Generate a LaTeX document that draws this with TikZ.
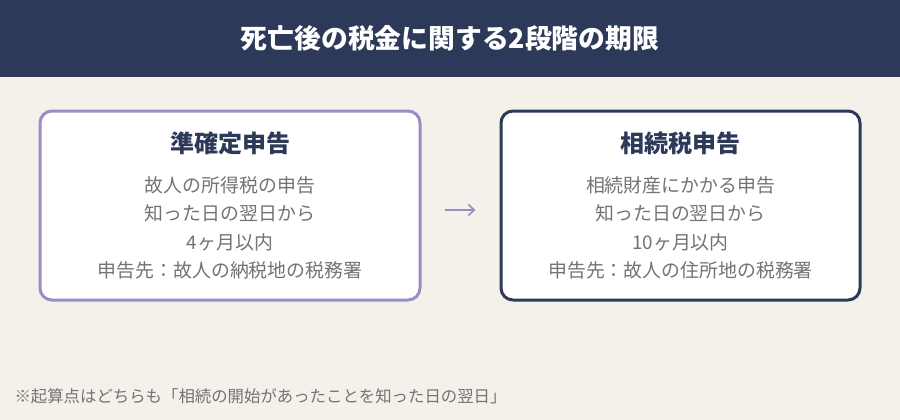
\documentclass[tikz,border=0pt]{standalone}
\usepackage{fontspec}
\setmainfont{Noto Sans CJK JP}
\usetikzlibrary{arrows.meta}
\definecolor{navy}{HTML}{2D3958}
\definecolor{bg}{HTML}{F4F1EB}
\definecolor{lav}{HTML}{9C8BC6}
\definecolor{txtgray}{HTML}{737373}
\tikzset{
  card/.style={draw, line width=3pt, rounded corners=12pt, fill=white, minimum height=189pt, inner sep=0pt},
  cardtitle/.style={text=navy, font=\fontsize{24}{28}\selectfont\bfseries},
  cardline/.style={text=txtgray, font=\fontsize{18.9}{22}\selectfont},
}
\begin{document}
\begin{tikzpicture}[x=1pt,y=-1pt]
\fill[bg] (0,0) rectangle (900,420);
\useasboundingbox (0,0) rectangle (900,420);
\fill[navy] (0,0) rectangle (900,77);
\node[text=white, font=\fontsize{26.8}{30}\selectfont\bfseries] (title) at (450,38) {死亡後の税金に関する2段階の期限};

\node[card, draw=lav, minimum width=380pt] (L) at (230,205.5) {};
\node[card, draw=navy, minimum width=359pt] (R) at (680.5,205.5) {};

\node[cardtitle] (Lt) at (230,143) {準確定申告};
\node[cardline] (L1) at (230,185) {故人の所得税の申告};
\node[cardline] (L2) at (230,213.5) {知った日の翌日から};
\node[cardline] (L3) at (230,242) {4ヶ月以内};
\node[cardline] (L4) at (230,270.5) {申告先：故人の納税地の税務署};

\node[cardtitle] (Rt) at (680.5,143) {相続税申告};
\node[cardline] (R1) at (680.5,185) {相続財産にかかる申告};
\node[cardline] (R2) at (680.5,213.5) {知った日の翌日から};
\node[cardline] (R3) at (680.5,242) {10ヶ月以内};
\node[cardline] (R4) at (680.5,270.5) {申告先：故人の住所地の税務署};

\coordinate (a1) at ([yshift=-4.5pt]L.east);
\coordinate (a2) at ([yshift=-4.5pt]R.west);
\draw[lav, line width=1.6pt, -{Straight Barb[length=6pt,width=11pt]}, shorten <=23pt, shorten >=24pt] (a1) -- (a2);

\node[anchor=west, text=txtgray, font=\fontsize{16.4}{19}\selectfont] (note) at (11,396) {※起算点はどちらも「相続の開始があったことを知った日の翌日」};
\end{tikzpicture}
\end{document}
